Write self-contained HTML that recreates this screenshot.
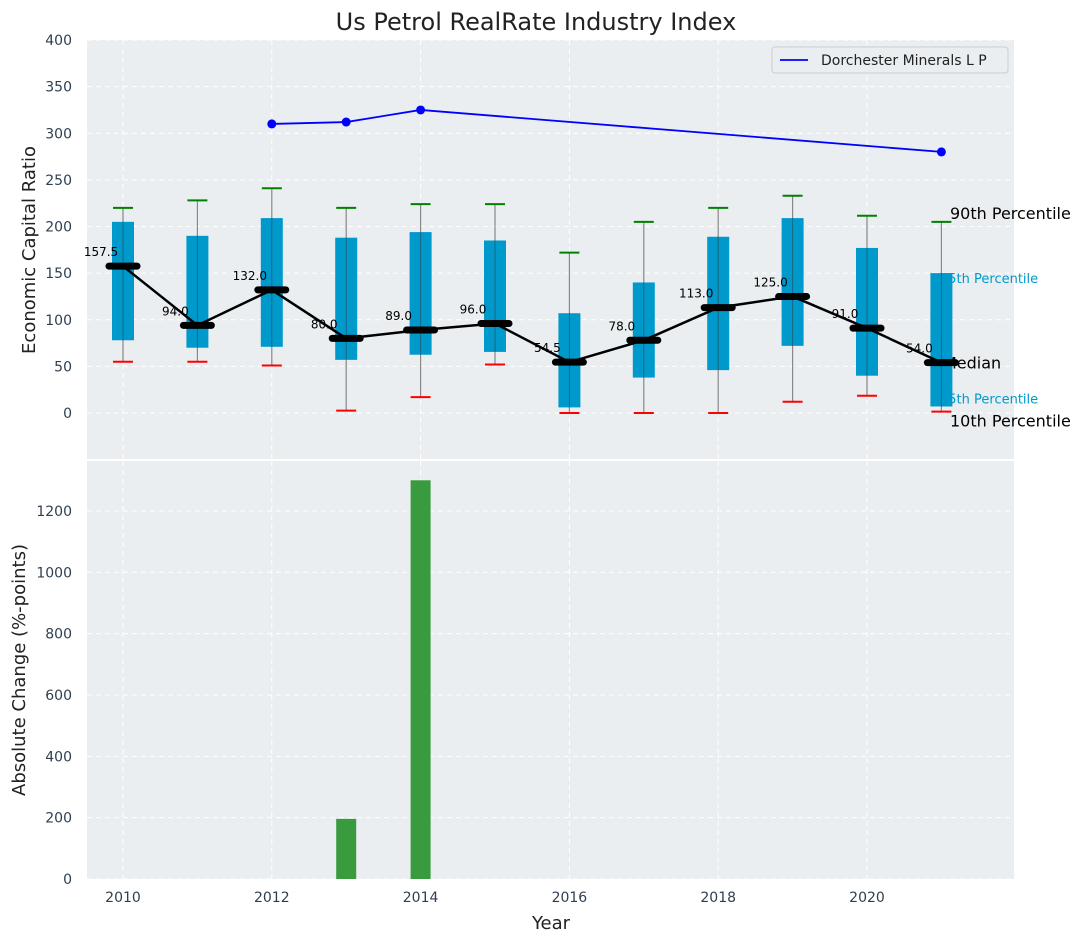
<!DOCTYPE html>
<html><head><meta charset="utf-8"><style>
body{margin:0;background:#fff;}
svg text{font-family:"DejaVu Sans","Liberation Sans",sans-serif;}
</style></head><body>
<svg id="c" width="1085" height="942" xmlns="http://www.w3.org/2000/svg"></svg>
<script>
const years=[2010,2011,2012,2013,2014,2015,2016,2017,2018,2019,2020,2021];
const p10=[55,55,51,2.5,17,52,0,0,0,12,18.5,1.5];
const q25=[78,70,71,57,62.5,65.5,6,38,46,72,40,7];
const medians=[157.5,94,132,80,89,96,54.5,78,113,125,91,54];
const q75=[205,190,209,188,194,185,107,140,189,209,177,150];
const p90=[220,228,241,220,224,224,172,205,220,233,211.5,205];
const peerYears=[2012,2013,2014,2021];
const peerVals=[310,312,325,280];
const changeYears=[2013,2014];
const changeVals=[196,1300];
const topTicks=[0,50,100,150,200,250,300,350,400];
const botTicks=[0,200,400,600,800,1000,1200];
const xTicks=[2010,2012,2014,2016,2018,2020];

const svg=document.getElementById('c');
const NS='http://www.w3.org/2000/svg';
function el(tag,attrs,parent){const e=document.createElementNS(NS,tag);for(const k in attrs)e.setAttribute(k,attrs[k]);(parent||svg).appendChild(e);return e;}
const L=87,R=1014;
const X=v=>123+(v-2010)*74.4;
const YT=v=>413-v*0.9325;
const YB=v=>879-v*0.3067;

let p=el('rect',{x:L,y:40,width:R-L,height:419,fill:'#eaeef0'});

p=el('rect',{x:L,y:461,width:R-L,height:418,fill:'#eaeef0'});


topTicks.forEach(t=>{let g=el('line',{x1:L,x2:R,y1:YT(t),y2:YT(t),stroke:'#fff','stroke-dasharray':'5,4','stroke-width':1});

let tx=el('text',{x:72,y:YT(t)+5,'text-anchor':'end','font-size':14,fill:'#2f3f50'});tx.textContent=t;
});
botTicks.forEach(t=>{let g=el('line',{x1:L,x2:R,y1:YB(t),y2:YB(t),stroke:'#fff','stroke-dasharray':'5,4','stroke-width':1});

let tx=el('text',{x:72,y:YB(t)+5,'text-anchor':'end','font-size':14,fill:'#2f3f50'});tx.textContent=t;
});
xTicks.forEach(t=>{[[40,459],[461,879]].forEach(r=>{let g=el('line',{x1:X(t),x2:X(t),y1:r[0],y2:r[1],stroke:'#fff','stroke-dasharray':'5,4'});
});
let tx=el('text',{x:X(t),y:902,'text-anchor':'middle','font-size':14,fill:'#2f3f50'});tx.textContent=t;
});

// percentile annotations (drawn first so blue ones sit behind the last box)
[['90th Percentile',p90[11],16,'#000',950,-3],['75th Percentile',q75[11],13,'#0099cc',940,10],['Median',medians[11],16,'#000',943,6],['25th Percentile',q25[11],13,'#0099cc',940,-3],['10th Percentile',p10[11],16,'#000',950,15]].forEach(a=>{
let t=el('text',{x:a[4],y:YT(a[1])+a[5],'font-size':a[2],fill:a[3]});t.textContent=a[0];
});

years.forEach((y,i)=>{const cx=X(y);
let w=el('line',{x1:cx,x2:cx,y1:YT(p90[i]),y2:YT(p10[i]),stroke:'#888','stroke-width':1.2});

let b=el('rect',{x:cx-11,y:YT(q75[i]),width:22,height:YT(q25[i])-YT(q75[i]),fill:'#0099cc'});

let c=el('line',{x1:cx,x2:cx,y1:YT(q75[i]),y2:YT(q25[i]),stroke:'#333','stroke-width':1,'stroke-opacity':0.5});

let g=el('line',{x1:cx-10,x2:cx+10,y1:YT(p90[i]),y2:YT(p90[i]),stroke:'green','stroke-width':2});

let r=el('line',{x1:cx-10,x2:cx+10,y1:YT(p10[i]),y2:YT(p10[i]),stroke:'red','stroke-width':2});

});
let ml=el('polyline',{points:years.map((y,i)=>X(y)+','+YT(medians[i])).join(' '),fill:'none',stroke:'#000','stroke-width':2.5});

years.forEach((y,i)=>{const cx=X(y);
let m=el('line',{x1:cx-14,x2:cx+14,y1:YT(medians[i]),y2:YT(medians[i]),stroke:'#000','stroke-width':7,'stroke-linecap':'round'});

let t=el('text',{x:cx-22,y:YT(medians[i])-10,'text-anchor':'middle','font-size':12,fill:'#000'});t.textContent=medians[i].toFixed(1);
});

let pl=el('polyline',{points:peerYears.map((y,i)=>X(y)+','+YT(peerVals[i])).join(' '),fill:'none',stroke:'blue','stroke-width':1.8});

peerYears.forEach((y,i)=>{let d=el('circle',{cx:X(y),cy:YT(peerVals[i]),r:4.5,fill:'blue'});
});

changeYears.forEach((y,i)=>{let b=el('rect',{x:X(y)-10,y:YB(changeVals[i]),width:20,height:YB(0)-YB(changeVals[i]),fill:'#3a9a3e'});
});

let lg=el('rect',{x:772,y:47,width:236,height:26,fill:'#eaeef0',stroke:'#ccc',rx:3});

let ll=el('line',{x1:780,x2:808,y1:60,y2:60,stroke:'blue','stroke-width':1.8});

let lt=el('text',{x:821,y:65,'font-size':14,fill:'#222'});lt.textContent='Dorchester Minerals L P';


let ti=el('text',{x:536,y:30,'text-anchor':'middle','font-size':24,fill:'#222'});ti.textContent='Us Petrol RealRate Industry Index';

let y1=el('text',{x:0,y:0,'text-anchor':'middle','font-size':18,fill:'#222',transform:'translate(35,250) rotate(-90)'});y1.textContent='Economic Capital Ratio';

let y2=el('text',{x:0,y:0,'text-anchor':'middle','font-size':18,fill:'#222',transform:'translate(25,670) rotate(-90)'});y2.textContent='Absolute Change (%-points)';

let xt=el('text',{x:551,y:929,'text-anchor':'middle','font-size':18,fill:'#222'});xt.textContent='Year';

</script>
</body></html>
